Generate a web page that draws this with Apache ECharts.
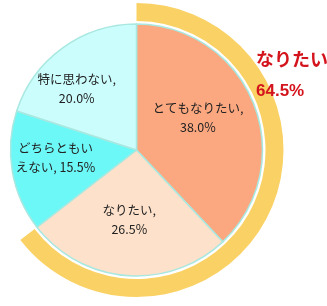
<!DOCTYPE html>
<html>
<head>
<meta charset="utf-8">
<script src="https://cdn.jsdelivr.net/npm/echarts@6/dist/echarts.min.js"></script>
<style>html,body{margin:0;padding:0;background:#fff;}#c{width:327px;height:306px;}</style>
</head>
<body>
<div id="c"></div>
<script>
var categories = ['とてもなりたい', 'なりたい', 'どちらともいえない', '特に思わない'];
var values = [38.0, 26.5, 15.5, 20.0];
var labelTexts = ['とてもなりたい,\n38.0%', 'なりたい,\n26.5%', 'どちらともい\nえない, 15.5%', '特に思わない,\n20.0%'];
var ringLabel = 'なりたい';
var ringValue = 64.5;

var colors = ['#FBA880', '#FDE1CA', '#6DF8F8', '#CCFDFD'];
var labelShift = [[0, -8], [-2, 4], [-16, -4], [-21, -8]];

var chart = echarts.init(document.getElementById('c'), null, {renderer: 'canvas'});
chart.setOption({
  animation: false,
  title: [
    {text: ringLabel, left: 251, top: 45, textStyle: {color: '#D4141C', fontSize: 18, fontWeight: 'bold', fontFamily: 'Noto Sans CJK JP'}},
    {text: ringValue.toFixed(1) + '%', left: 251, top: 78, textStyle: {color: '#D4141C', fontSize: 17, fontWeight: 'bold', fontFamily: 'Liberation Sans'}}
  ],
  series: [
    {
      type: 'pie',
      center: [136.5, 150],
      radius: [129, 147],
      startAngle: 90,
      clockwise: true,
      silent: true,
      label: {show: false},
      labelLine: {show: false},
      data: [
        {value: ringValue, itemStyle: {color: '#FAD164'}},
        {value: 100 - ringValue, itemStyle: {color: 'rgba(0,0,0,0)'}}
      ]
    },
    {
      type: 'pie',
      center: [136.5, 150],
      radius: [0, 126],
      startAngle: 90,
      clockwise: true,
      itemStyle: {borderColor: '#A8E8E0', borderWidth: 1.5},
      label: {
        show: true,
        position: 'inside',
        formatter: function (p) { return labelTexts[p.dataIndex]; },
        color: '#222',
        fontSize: 12.5,
        lineHeight: 19,
        fontFamily: 'Noto Sans CJK JP',
        align: 'center'
      },
      labelLayout: function (p) {
        var s = labelShift[p.dataIndex];
        return {dx: s[0], dy: s[1]};
      },
      data: categories.map(function (c, i) {
        return {name: c, value: values[i], itemStyle: {color: colors[i]}};
      })
    }
  ]
});
</script>
</body>
</html>
